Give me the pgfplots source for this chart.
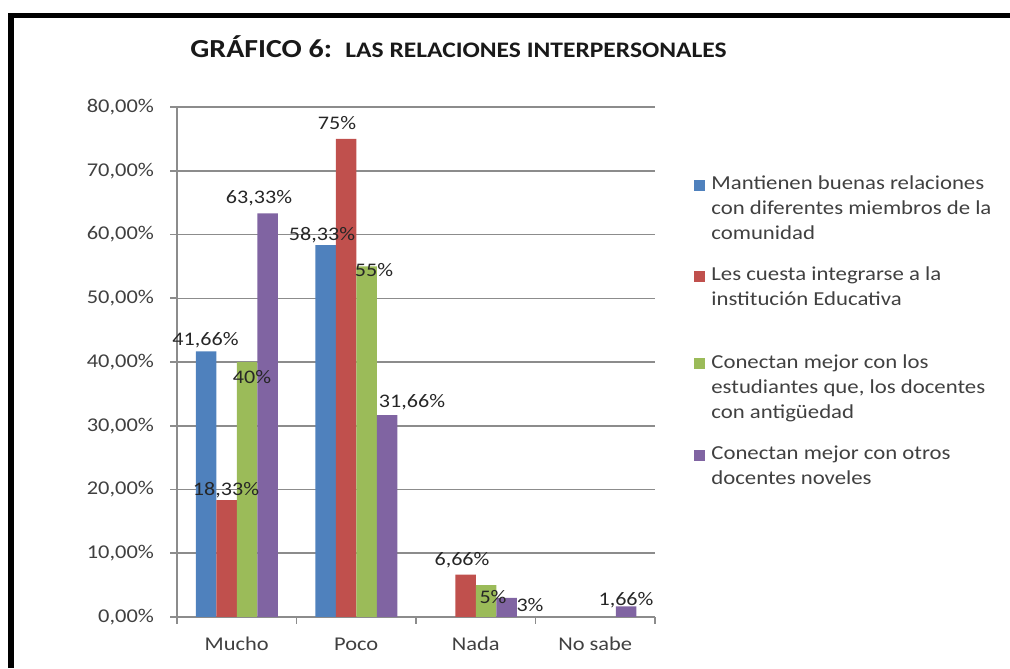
\documentclass[border=0pt]{standalone}
\usepackage{fontspec}
\setmainfont{Carlito}[FakeStretch=1.15]
\usepackage{pgfplots}
\pgfplotsset{compat=1.18}
\usepackage{pgfplotstable}
\definecolor{SBlue}{HTML}{4F81BD}
\definecolor{SRed}{HTML}{C0504D}
\definecolor{SGreen}{HTML}{9BBB59}
\definecolor{SPurple}{HTML}{8064A2}
\definecolor{GridGray}{HTML}{8C8C8C}
\definecolor{TxtGray}{HTML}{404040}

% x: 0 Mucho, 1 Poco, 2 Nada, 3 No sabe; dx/dy = label offset in pt
\pgfplotstableread{
x y dx dy
0 41.66 -0.25 5.7
1 58.33 -1.75 5.05
}\tblue
\pgfplotstableread{
x y dx dy
0 18.33 -0.25 5.05
1 75 -4.5 7.95
2 6.66 -1.75 7.25
}\tred
\pgfplotstableread{
x y dx dy
0 40 2.5 -7.5
1 55 3.75 -1.8
2 5 3.5 -6
}\tgreen
\pgfplotstableread{
x y dx dy
0 63.33 -4.25 7.65
1 31.66 12.5 6.6
2 3 11.75 -3.5
3 1.66 0 3.2
}\tpurple

\pgfplotsset{
  sqleg/.style={legend image code/.code={\fill[##1] (0pt,-7.6pt) rectangle (5.5pt,-2.1pt);}}}

\begin{document}
\begin{tikzpicture}
\useasboundingbox (0pt,0pt) rectangle (505pt,334pt);
% outer frame
\draw[line width=2.6pt,line join=miter] (5.5pt,0pt) -- (5.5pt,326.25pt) -- (505pt,326.25pt);
% title
\node[anchor=base west,inner sep=0pt,text=black!90] at (95pt,305pt) {\fontsize{13}{15}\selectfont\bfseries GRÁFICO 6:};
\node[anchor=base west,inner sep=0pt,text=black!90] at (172.5pt,305pt) {\fontsize{11.1}{13}\selectfont\bfseries LAS RELACIONES INTERPERSONALES};

\begin{axis}[
  at={(88.5pt,25.5pt)},anchor=south west,
  width=239pt,height=255pt,scale only axis,
  ybar=0pt,bar width=10.25pt,
  xmin=-0.5,xmax=3.5,ymin=0,ymax=80,
  axis lines=left,
  axis line style={-,draw=GridGray,line width=0.8pt},
  tick style={draw=GridGray,line width=0.8pt},
  tick align=outside,major tick length=3.5pt,
  ytick={0,10,...,80},
  ymajorgrids,grid style={draw=GridGray,line width=0.75pt},
  /pgf/number format/assume math mode=true,
  yticklabel={\pgfmathprintnumber[fixed,fixed zerofill,precision=2,use comma]{\tick}\%},
  yticklabel style={font=\fontsize{9.75}{11}\selectfont,text=TxtGray,xshift=-4.5pt},
  xtick={-0.5,0.5,1.5,2.5,3.5},xticklabels={},
  extra x ticks={0,1,2,3},
  extra x tick labels={Mucho,Poco,Nada,No sabe},
  extra x tick style={major tick length=0pt,
    xticklabel style={font=\fontsize{9.75}{11}\selectfont,text=TxtGray,
      anchor=base,yshift=-16.5pt}},
  visualization depends on={\thisrow{dx} \as \dx},
  visualization depends on={\thisrow{dy} \as \dy},
  nodes near coords={\pgfmathprintnumber[fixed,precision=2,use comma]{\pgfplotspointmeta}\%},
  every node near coord/.append style={anchor=center,xshift=\dx pt,yshift=\dy pt,
    font=\fontsize{9.6}{11}\selectfont,text=black!85,inner sep=0pt},
  legend style={draw=none,fill=none,at={(1.069,0.8745)},anchor=north west,
    font=\fontsize{9.9}{12.5}\selectfont,text=TxtGray,row sep=12pt,column sep=3pt,
    nodes={align=left,inner sep=0pt},cells={anchor=north west}},
  clip=false]
\addplot[fill=SBlue,draw=none,sqleg] table[x=x,y=y] {\tblue};
\addplot[fill=SRed,draw=none,sqleg] table[x=x,y=y] {\tred};
\addplot[fill=SGreen,draw=none,sqleg] table[x=x,y=y] {\tgreen};
\addplot[fill=SPurple,draw=none,sqleg] table[x=x,y=y] {\tpurple};
\legend{Mantienen buenas relaciones\\con diferentes miembros de la\\comunidad,
  Les cuesta integrarse a la\\institución Educativa\\[-1.75pt]\strut,
  Conectan mejor con los\\estudiantes que{,} los docentes\\con antigüedad,
  Conectan mejor con otros\\docentes noveles}
\end{axis}
\end{tikzpicture}
\end{document}
